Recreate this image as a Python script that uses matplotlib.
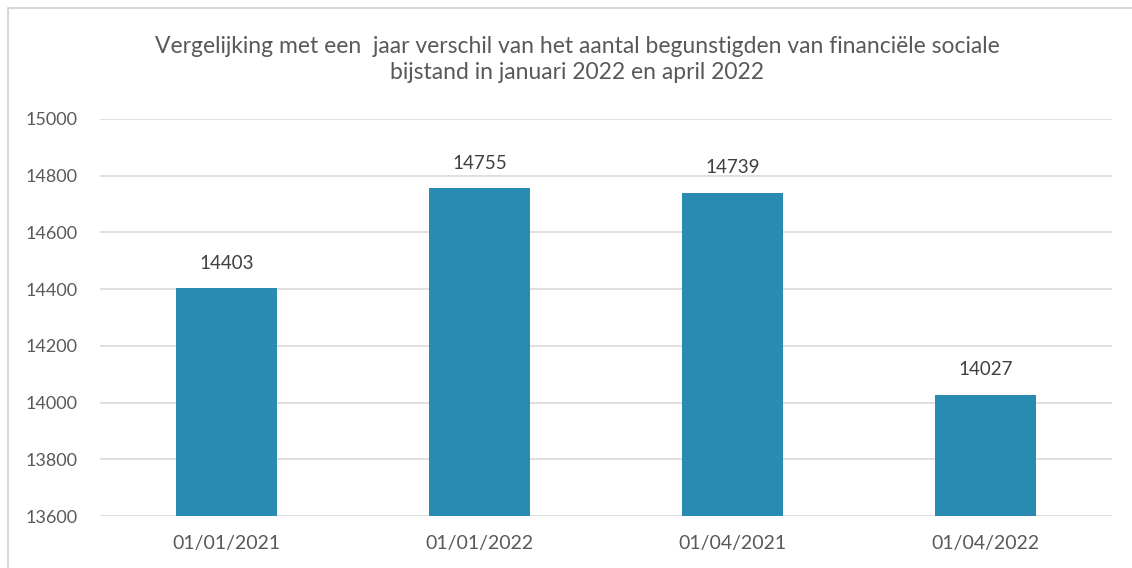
# bar chart: jaarvergelijking begunstigden financiële sociale bijstand

import matplotlib.pyplot as plt
from matplotlib.patches import Rectangle

dates = ['01/01/2021', '01/01/2022', '01/04/2021', '01/04/2022']
counts = [14403, 14755, 14739, 14027]
yticks = [13600, 13800, 14000, 14200, 14400, 14600, 14800, 15000]

title = ('Vergelijking met een  jaar verschil van het aantal begunstigden van financiële sociale\n'
         'bijstand in januari 2022 en april 2022')

plt.rcParams['font.family'] = ['Lato', 'DejaVu Sans']
text_color = '#595959'

fig = plt.figure(figsize=(11.32, 5.68), dpi=100)
ax = fig.add_axes([0.0883, 0.0915, 0.894, 0.699])

x = range(len(dates))
bars = ax.bar(x, counts, width=0.4, color='#2A8BB2', zorder=3)

for i, v in enumerate(counts):
    ax.annotate(str(v), (i, v), xytext=(0, 12), textcoords='offset points',
                ha='center', va='bottom', fontsize=13.5, color='#404040')

ax.set_xlim(-0.5, len(dates) - 0.5)
ax.set_ylim(13600, 15000)
ax.set_yticks(yticks)
ax.set_xticks(list(x))
ax.set_xticklabels(dates)
ax.tick_params(axis='y', length=0, labelsize=13, colors=text_color, pad=16)
ax.tick_params(axis='x', length=0, labelsize=14, colors=text_color, pad=14)
ax.grid(axis='y', color='#D9D9D9', linewidth=1.2, zorder=0)
for s in ax.spines.values():
    s.set_visible(False)

fig.text(0.51, 0.895, title, ha='center', va='center', fontsize=16.5,
         color=text_color, linespacing=1.3)

# thin frame around the chart area
fig.patches.append(Rectangle((8 / 1132, -0.1), 1.2, (560 + 568 * 0.1) / 568,
                             transform=fig.transFigure, fill=False,
                             edgecolor='#D0D0D0', linewidth=1.2))

fig.savefig('out.png', dpi=100)
